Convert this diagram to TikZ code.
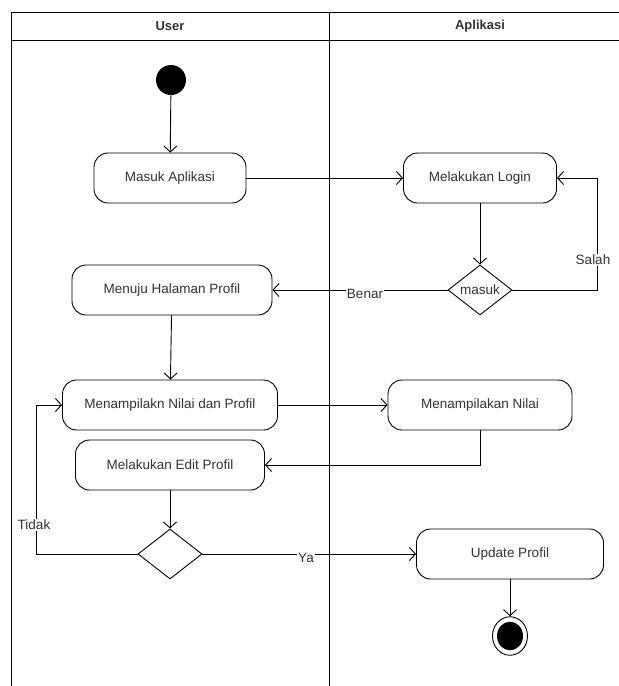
\documentclass[tikz,border=0pt]{standalone}
\usepackage{fontspec}
\setmainfont{Liberation Sans}
\usetikzlibrary{arrows.meta,shapes.geometric}
\begin{document}
\begin{tikzpicture}[x=1pt,y=-1pt,
  line width=0.9pt,
  every node/.style={font=\fontsize{13.5}{16}\selectfont, text=black!80},
  act/.style={draw, rounded corners=14pt, minimum height=50pt, inner sep=0pt},
  decision/.style={draw, diamond, aspect=1.28, minimum width=64pt, minimum height=50pt, inner sep=0pt},
  flow/.style={draw, -{Straight Barb[length=6pt,width=13pt]}},
  lbl/.style={fill=white, inner sep=1pt},
  lane/.style={font=\bfseries\fontsize{13}{16}\selectfont}
]
\useasboundingbox (0,0) rectangle (619,686);
% swimlane frame
\draw (11,686) -- (11,12) -- (619,12);
\draw (11,40) -- (619,40);
\draw (329,12) -- (329,686);
\node[lane] (laneU) at (170,26) {User};
\node[lane] (laneA) at (480,26) {Aplikasi};

% nodes
\node[circle, fill=black, minimum size=30pt, inner sep=0pt] (start) at (171,80) {};
\node[act, minimum width=152pt] (masuk) at (170,178) {Masuk Aplikasi};
\node[act, minimum width=153pt] (login) at (480,178) {Melakukan Login};
\node[decision] (cek) at (480,290) {masuk};
\node[act, minimum width=200pt] (menuju) at (172,290) {Menuju Halaman Profil};
\node[act, minimum width=215pt] (tampil) at (170,405) {Menampilakn Nilai dan Profil};
\node[act, minimum width=184pt] (nilai) at (480,405) {Menampilakan Nilai};
\node[act, minimum width=189pt] (edit) at (170,465) {Melakukan Edit Profil};
\node[decision] (pilih) at (170,554) {};
\node[act, minimum width=187pt] (update) at (510,554) {Update Profil};
\node[circle, draw, minimum width=35pt, inner sep=0pt, yscale=1.1] (stop) at (510,636) {};
\node[circle, fill=black, minimum width=26pt, inner sep=0pt, yscale=1.1] (stopin) at (510,636) {};
\coordinate (salahC) at (597,290);
\coordinate (tidakC) at (36,554);

% connectors
\draw[flow] (start) -- (masuk);
\draw[flow] (masuk) -- (login);
\draw[flow] (login) -- (cek);
\draw[flow] (cek.east) -- (salahC) |- (login.east);
\node[lbl] (salah) at (593,260) {Salah};
\draw[flow] (cek.west) -- (menuju.east);
\node[lbl] (benar) at (365,294) {Benar};
\draw[flow] (menuju) -- (tampil);
\draw[flow] (tampil) -- (nilai);
\draw[flow] (nilai.south) |- (edit.east);
\draw[flow] (edit) -- (pilih);
\draw[flow] (pilih.west) -- (tidakC) |- (tampil.west);
\node[lbl] (tidak) at (34,525) {Tidak};
\draw[flow] (pilih.east) -- (update.west);
\node[lbl] (ya) at (306,558) {Ya};
\draw[flow] (update) -- (stop);
\end{tikzpicture}
\end{document}
